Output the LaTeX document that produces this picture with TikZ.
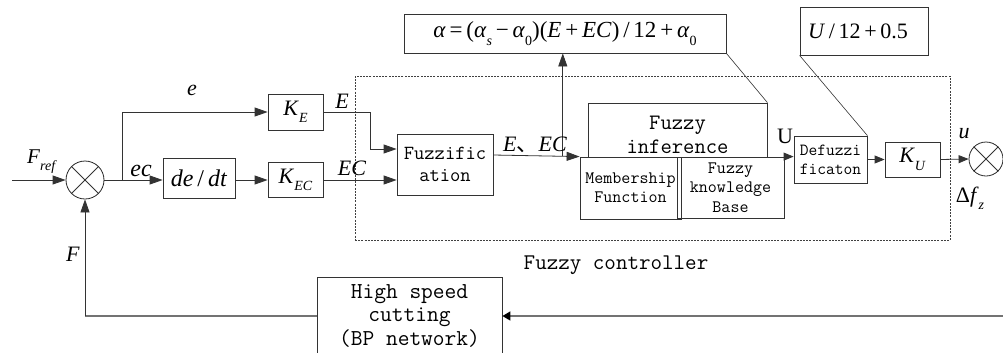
\documentclass[tikz,border=0pt]{standalone}
\usepackage{fontspec}
\newfontfamily\tms{Liberation Serif}
\newfontfamily\cjk{Noto Sans CJK SC}
\usetikzlibrary{arrows.meta,calc}
\newcommand\fsz[2]{\fontsize{#1bp}{#2bp}\selectfont}
\newcommand\sbx[1]{\raisebox{-0.34em}{\fontsize{14bp}{14bp}\selectfont #1}}
\newcommand\mi[1]{\textit{#1}}
\tikzset{
  blk/.style={draw=black!80, line width=0.8bp, inner sep=0pt, align=center, font=\ttfamily},
  wire/.style={draw=black!80, line width=0.8bp},
  arr/.style={wire, -{Triangle[length=13bp,width=9bp]}},
  sarr/.style={wire, -{Triangle[length=10bp,width=8bp]}},
  fb/.style={draw=black!55, line width=1.6bp},
  sumj/.style={circle, draw=black!85, line width=0.8bp, inner sep=0pt},
  dbox/.style={draw=black!75, line width=0.7bp, dash pattern=on 2bp off 1.2bp},
  lbl/.style={inner sep=0pt, font=\tms\fsz{22}{24}},
  mono/.style={inner sep=0pt, align=center, font=\ttfamily}
}
\begin{document}
\begin{tikzpicture}[x=1bp,y=-1bp]
\useasboundingbox (0,0) rectangle (1003,352);
% dashed controller frame
\node[dbox, minimum width=595bp, minimum height=164bp] (fc) at (652.5,158) {};
\node[mono, font=\ttfamily\fsz{22.4}{24}] (fclbl) at (616,265) {Fuzzy controller};
% summing junctions
\node[sumj, minimum size=38bp] (s1) at (85,180) {};
\draw[wire] (s1.45) -- (s1.225) (s1.135) -- (s1.315);
\node[sumj, minimum size=34bp] (s2) at (986,159) {};
\draw[wire] (s2.45) -- (s2.225) (s2.135) -- (s2.315);
% blocks
\node[blk, minimum width=72bp, minimum height=40bp, font=\tms\fsz{24}{26}] (dedt) at (199,178) {\mi{de}\,/\,\mi{dt}};
\node[blk, minimum width=55bp, minimum height=36bp, font=\tms\fsz{22}{24}] (ke) at (295.5,112) {\mi{K}\sbx{\mi{E}}};
\node[blk, minimum width=55bp, minimum height=35bp, font=\tms\fsz{22}{24}] (kec) at (295.5,180) {\mi{K}\sbx{\mi{EC}}};
\node[blk, minimum width=96bp, minimum height=61bp, font=\ttfamily\fsz{20}{22}] (fuzz) at (445,164.5) {Fuzzific\\ation};
\node[blk, minimum width=179bp, minimum height=54bp] (finf) at (677.5,130) {};
\node[mono, font=\ttfamily\fsz{22}{24}] (finft) at (677.5,135) {Fuzzy\\inference};
\node[blk, minimum width=101bp, minimum height=62bp, font=\ttfamily\fsz{17.5}{19}] (memb) at (630.5,188) {Membership\\Function};
\node[blk, minimum width=107bp, minimum height=61bp, font=\ttfamily\fsz{17.5}{19.5}] (know) at (730.5,187.5) {Fuzzy\\knowledge\\Base};
\node[blk, minimum width=73bp, minimum height=47bp, font=\ttfamily\fsz{17}{19}] (defz) at (830.5,159.5) {Defuzzi\\ficaton};
\node[blk, minimum width=55bp, minimum height=35bp, font=\tms\fsz{22}{24}] (ku) at (912.5,159.5) {\mi{K}\sbx{\mi{U}}};
\node[blk, minimum width=322bp, minimum height=39bp, font=\tms\fsz{23}{24}] (form) at (565,33.5)
  {\raisebox{-4bp}{\mi{α}\,=\,(\mi{α}\sbx{\mi{s}}\,−\,\mi{α}\sbx{0})(\mi{E}\,+\,\mi{EC})\,/\,12\,+\,\mi{α}\sbx{0}}};
\node[blk, minimum width=128bp, minimum height=48bp, font=\tms\fsz{22}{24}] (ubox) at (864,31) {\mi{U}\,/\,12\,+\,0.5\hspace{12bp}};
\node[blk, minimum width=185bp, minimum height=77bp, font=\ttfamily\fsz{22.8}{23.5}] (hs) at (409.5,315.5) {High speed\\cutting\\(BP network)};
% connectors
\coordinate (in) at (12,180);
\draw[arr] (in) -- (s1.west);
\coordinate (br) at (122,180);
\draw[wire] (s1.east) -- (br);
\draw[arr] (br) |- (ke.west);
\draw[arr] (br) -- (dedt.west |- br);
\draw[arr] (dedt.east |- br) -- (kec.west |- br);
\coordinate (ej) at (370,112);
\draw[arr] (ke.east) -- (ej) |- ([yshift=15.5bp]fuzz.west);
\draw[arr] (kec.east) -- (fuzz.west |- kec.east);
\draw[arr] ([yshift=9.5bp]fuzz.east) -- (memb.north west) coordinate[pos=0.805] (vj);
\draw[arr] (vj) -- (vj |- form.south);
\draw[sarr] (know.north east) -- (defz.west |- know.north east);
\draw[sarr] (defz.east) -- (ku.west);
\draw[sarr] (ku.east) -- (s2.west);
\draw[wire, line width=0.6bp] (form.south east) -- (finf.north east);
\draw[wire, line width=0.6bp] (ubox.south west) -- (defz.north east);
% feedback
\coordinate (fbr) at (1003,316);
\draw[fb, -{Triangle[length=8bp,width=9bp,color=black]}] (fbr) -- (hs.east |- fbr);
\coordinate (fbl) at (s1 |- fbr);
\draw[fb] (hs.west |- fbr) -- (fbl);
\draw[arr] (fbl) -- (s1.south);
% labels
\node[lbl, font=\tms\fsz{21}{22}] (lfref) at (42,162) {\mi{F}\sbx{\mi{ref}}};
\node[lbl] (le) at (192,90) {\mi{e}};
\node[lbl, font=\tms\fsz{24}{24}] (lec) at (141,171) {\mi{ec}};
\node[lbl] (lE) at (342,101) {\mi{E}};
\node[lbl] (lEC) at (352,168) {\mi{EC}};
\node[lbl] (lEEC) at (535,145) {\mi{E}{\cjk 、}\mi{EC}};
\node[lbl, font=\tms\fsz{22}{24}] (lU) at (785,136) {U};
\node[lbl] (lu) at (964,134) {\mi{u}};
\node[lbl] (ldf) at (970,198) {Δ\mi{f}\sbx{\mi{z}}};
\node[lbl] (lF) at (73,254) {\mi{F}};
\end{tikzpicture}
\end{document}
